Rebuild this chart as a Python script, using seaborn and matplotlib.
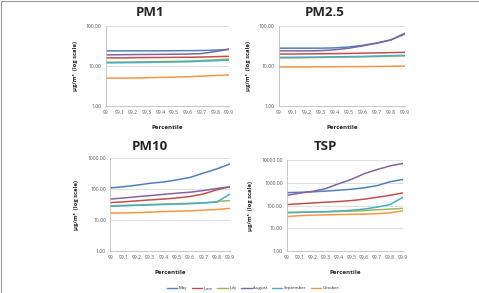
import numpy as np
import pandas as pd
import seaborn as sns
import matplotlib.pyplot as plt
from matplotlib.patches import Rectangle

sns.set_theme(style="white")
plt.rcParams['font.family'] = ['Open Sans', 'DejaVu Sans']

percentile = [99.0, 99.1, 99.2, 99.3, 99.4, 99.5, 99.6, 99.7, 99.8, 99.9]
tick_labels = ["99", "99.1", "99.2", "99.3", "99.4", "99.5", "99.6", "99.7", "99.8", "99.9"]
months = ["May", "June", "July", "August", "September", "October"]
colors = ["#4F81BD", "#C0504D", "#9BBB59", "#8064A2", "#4BACC6", "#F79646"]

# values per month, one list per pollutant
pm1 = {
    "May":       [24, 24, 24, 24, 24, 24.2, 24.3, 24.5, 25, 26],
    "June":      [16, 16, 16.2, 16.3, 16.4, 16.5, 16.6, 16.8, 17.2, 17.5],
    "July":      [12.5, 12.6, 12.7, 12.8, 13, 13.2, 13.4, 13.8, 14.3, 15],
    "August":    [19, 19.2, 19.4, 19.5, 19.6, 19.8, 20, 20.5, 23, 26.5],
    "September": [12, 12.1, 12.2, 12.3, 12.5, 12.6, 12.8, 13.2, 13.6, 14],
    "October":   [5, 5, 5.05, 5.1, 5.2, 5.3, 5.4, 5.6, 5.8, 6],
}
pm25 = {
    "May":       [28, 28, 28, 28, 28.5, 30, 33, 38, 45, 63],
    "June":      [20, 20, 20.2, 20.3, 20.5, 20.7, 21, 21.3, 21.7, 22],
    "July":      [16, 16, 16.2, 16.4, 16.6, 16.8, 17, 17.3, 17.7, 18],
    "August":    [24, 24, 24, 24.3, 25.5, 28, 32, 37, 45, 66],
    "September": [16.5, 16.6, 16.7, 16.8, 17, 17.2, 17.5, 17.8, 18.2, 18.5],
    "October":   [9.5, 9.5, 9.5, 9.6, 9.6, 9.7, 9.7, 9.8, 9.9, 10],
}
pm10 = {
    "May":       [110, 120, 135, 155, 170, 200, 240, 330, 450, 650],
    "June":      [37, 39, 42, 45, 48, 52, 58, 70, 95, 120],
    "July":      [29, 30, 31, 32, 33, 34, 35, 36, 40, 43],
    "August":    [48, 52, 57, 62, 68, 74, 80, 90, 105, 120],
    "September": [28, 29, 30, 31, 32, 33, 34, 36, 38, 70],
    "October":   [17, 17, 17.5, 18, 19, 19.5, 20, 21, 22, 24],
}
tsp = {
    "May":       [370, 380, 400, 430, 470, 520, 600, 750, 1100, 1400],
    "June":      [110, 120, 130, 140, 150, 165, 190, 230, 280, 360],
    "July":      [50, 51, 52, 53, 55, 57, 60, 65, 70, 75],
    "August":    [280, 350, 420, 550, 900, 1400, 2500, 3800, 5500, 7000],
    "September": [48, 50, 52, 54, 57, 62, 70, 85, 110, 230],
    "October":   [33, 36, 38, 39, 40, 41, 42, 44, 48, 58],
}

panels = [
    ("PM1", pm1, 100, [0.221, 0.638, 0.257, 0.273], 150 / 479, 1 - 13 / 293),
    ("PM2.5", pm25, 100, [0.582, 0.638, 0.263, 0.273], 325 / 479, 1 - 13 / 293),
    ("PM10", pm10, 1000, [0.230, 0.143, 0.250, 0.317], 150 / 479, 1 - 146 / 293),
    ("TSP", tsp, 10000, [0.599, 0.143, 0.242, 0.311], 325 / 479, 1 - 146 / 293),
]

fig = plt.figure(figsize=(4.79, 2.93), dpi=100)
fig.patches.append(Rectangle((0.002, -0.01), 1.2, 1.007, transform=fig.transFigure,
                             fill=False, edgecolor="#9a9a9a", lw=0.8))

for name, data, ymax, pos, tx, ty in panels:
    df = pd.DataFrame([(m, p, v) for m in months for p, v in zip(percentile, data[m])],
                      columns=["month", "Percentile", "value"])
    ax = fig.add_axes(pos)
    sns.lineplot(data=df, x="Percentile", y="value", hue="month", hue_order=months,
                 palette=colors, lw=1.1, legend=False, ax=ax)
    ax.set_yscale("log")
    ax.set_ylim(1, ymax)
    ax.set_xlim(99.0, 99.9)
    yt = [10 ** k for k in range(int(np.log10(ymax)) + 1)]
    ax.set_yticks(yt)
    ax.set_yticklabels([f"{t:.2f}" for t in yt])
    ax.minorticks_off()
    ax.set_xticks(percentile)
    ax.set_xticklabels(tick_labels)
    ax.tick_params(labelsize=3.6, colors="#555555", length=0, pad=3)
    ax.grid(axis="y", color="#d9d9d9", lw=0.6)
    for s in ["top", "right"]:
        ax.spines[s].set_visible(False)
    for s in ["left", "bottom"]:
        ax.spines[s].set_color("#bfbfbf")
        ax.spines[s].set_linewidth(0.6)
    ax.set_xlabel("Percentile", fontsize=4.5, fontweight="bold", labelpad=7)
    ax.set_ylabel("μg/m³  (log scale)", fontsize=4.2, fontweight="bold", labelpad=6)
    fig.text(tx, ty, name, fontsize=9.5, fontweight="bold", ha="center", va="center")

handles = [plt.Line2D([], [], color=c, lw=1.0) for c in colors]
fig.legend(handles, months, loc="center", bbox_to_anchor=(253 / 479, 1 - 288 / 293),
           ncol=6, fontsize=3.2, frameon=False, handlelength=2.4, columnspacing=1.0,
           handletextpad=0.3)

fig.savefig("out.png", dpi=100, facecolor="white")
